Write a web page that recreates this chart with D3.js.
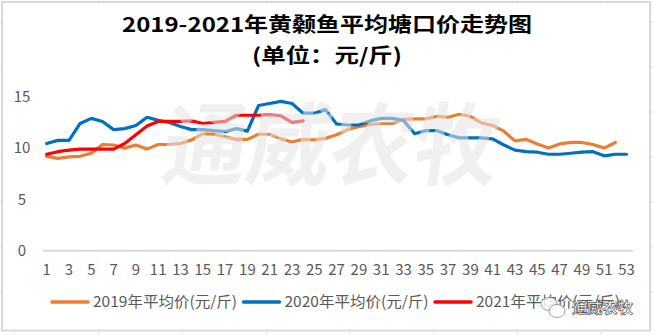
<!DOCTYPE html>
<html><head><meta charset="utf-8">
<script src="https://cdn.jsdelivr.net/npm/d3@7"></script>
<style>html,body{margin:0;padding:0;background:#fff;}svg{display:block;}</style>
</head><body>
<svg id="c" width="654" height="335"></svg>
<script>
const weeks = d3.range(1, 54);
const xTickLabels = d3.range(1, 54, 2);
const yTicks = [0, 5, 10, 15];
const seriesNames = ["2019年平均价(元/斤)", "2020年平均价(元/斤)", "2021年平均价(元/斤)"];
const seriesColors = ["#ED7D31", "#0070C0", "#FF0000"];
const price2019 = [9.2, 9.0, 9.15, 9.2, 9.5, 10.35, 10.3, 10.0, 10.3, 9.9, 10.35, 10.35, 10.45, 10.8, 11.4, 11.35, 11.1, 10.85, 10.85, 11.35, 11.35, 10.9, 10.6, 10.85, 10.8, 10.95, 11.3, 11.8, 12.1, 12.3, 12.4, 12.4, 12.8, 12.85, 12.85, 13.1, 13.0, 13.3, 13.1, 12.45, 12.2, 11.65, 10.7, 10.85, 10.4, 10.0, 10.4, 10.55, 10.55, 10.35, 10.0, 10.55];
const price2020 = [10.45, 10.75, 10.75, 12.4, 12.9, 12.6, 11.8, 11.9, 12.2, 13.0, 12.7, 12.5, 12.1, 11.8, 11.8, 11.7, 11.6, 11.9, 11.65, 14.15, 14.35, 14.55, 14.35, 13.4, 13.4, 13.75, 12.35, 12.25, 12.25, 12.65, 12.9, 12.9, 12.7, 11.4, 11.7, 11.7, 11.3, 11.0, 11.0, 11.0, 10.9, 10.3, 9.8, 9.65, 9.6, 9.4, 9.4, 9.5, 9.6, 9.65, 9.25, 9.4, 9.4];
const price2021 = [9.4, 9.65, 9.8, 9.9, 9.9, 9.9, 9.9, 10.45, 11.3, 12.15, 12.6, 12.6, 12.6, 12.65, 12.4, 12.5, 12.6, 13.2, 13.2, 13.2, 13.25, 13.15, 12.5, 12.65];
const allSeries = [price2019, price2020, price2021];

const svg = d3.select("#c");
const FONT = "'Noto Sans CJK SC','Microsoft YaHei',sans-serif";

// spreadsheet cell grid outside the chart
const colLines = [14.5, 98.5, 182.5, 266.5, 350, 433.5, 517.5, 601];
const rowLines = [22, 67, 112, 157, 202, 247, 292];
svg.append("g").selectAll("line.v").data(colLines).join("line")
  .attr("x1", d => d).attr("x2", d => d).attr("y1", 0).attr("y2", 335)
  .attr("stroke", "#e3e3e3").attr("stroke-width", 1);
svg.append("g").selectAll("line.h").data(rowLines).join("line")
  .attr("x1", 0).attr("x2", 654).attr("y1", d => d).attr("y2", d => d)
  .attr("stroke", "#e3e3e3").attr("stroke-width", 1);

// chart frame
svg.append("rect").attr("x", 2).attr("y", 2).attr("width", 648).attr("height", 328.5)
  .attr("fill", "#fff").attr("stroke", "#d9d9d9").attr("stroke-width", 2);

// title
svg.append("text").attr("x", 327).attr("y", 32).attr("text-anchor", "middle")
  .attr("font-family", FONT).attr("font-weight", "bold").attr("font-size", 20)
  .attr("textLength", 410).attr("lengthAdjust", "spacingAndGlyphs")
  .attr("fill", "#000").text("2019-2021年黄颡鱼平均塘口价走势图");
svg.append("text").attr("x", 327).attr("y", 63).attr("text-anchor", "middle")
  .attr("font-family", FONT).attr("font-weight", "bold").attr("font-size", 20)
  .attr("textLength", 150).attr("lengthAdjust", "spacingAndGlyphs")
  .attr("fill", "#000").text("(单位：元/斤)");

// scales
const x = d3.scalePoint().domain(weeks).range([46.7, 626.5]);
const y = d3.scaleLinear().domain([0, 15]).range([250.7, 96.8]);

// x axis baseline
svg.append("line").attr("x1", 43).attr("x2", 633).attr("y1", y(0)).attr("y2", y(0))
  .attr("stroke", "#d9d9d9").attr("stroke-width", 2);

// y labels
svg.append("g").selectAll("text").data(yTicks).join("text")
  .attr("x", 22).attr("y", d => y(d)).attr("dy", "0.35em").attr("text-anchor", "middle")
  .attr("font-family", FONT).attr("font-size", 15).attr("fill", "#595959")
  .text(d => d);

// x labels
svg.append("g").selectAll("text").data(xTickLabels).join("text")
  .attr("x", d => x(d)).attr("y", 270).attr("dy", "0.35em").attr("text-anchor", "middle")
  .attr("font-family", FONT).attr("font-size", 15).attr("fill", "#595959")
  .text(d => d);

// lines
const line = d3.line().x((d, i) => x(weeks[i])).y(d => y(d));
svg.append("g").selectAll("path").data(allSeries).join("path")
  .attr("d", d => line(d)).attr("fill", "none")
  .attr("stroke", (d, i) => seriesColors[i]).attr("stroke-width", 3.2)
  .attr("stroke-linejoin", "round").attr("stroke-linecap", "round");

// big watermark on top
svg.append("text").attr("x", 330).attr("y", 178).attr("text-anchor", "middle")
  .attr("font-family", FONT).attr("font-weight", "bold").attr("font-size", 90)
  .attr("textLength", 335).attr("lengthAdjust", "spacingAndGlyphs")
  .attr("transform", "skewX(-8) translate(22,0)")
  .attr("fill", "#e4e4e4").attr("fill-opacity", 0.55).text("通威农牧");

// legend
const legendX = [52, 243.5, 435];
const lg = svg.append("g").selectAll("g").data(seriesNames).join("g")
  .attr("transform", (d, i) => `translate(${legendX[i]},302)`);
lg.append("line").attr("x1", 0).attr("x2", 36).attr("y1", 0).attr("y2", 0)
  .attr("stroke", (d, i) => seriesColors[i]).attr("stroke-width", 3.5).attr("stroke-linecap", "round");
lg.append("text").attr("x", 41).attr("y", 0).attr("dy", "0.35em")
  .attr("font-family", FONT).attr("font-size", 15).attr("fill", "#595959")
  .attr("textLength", 144).attr("lengthAdjust", "spacingAndGlyphs")
  .text(d => d);

// bottom-right watermark (icon + outlined text)
const wm = svg.append("g").attr("transform", "translate(540,296)");
wm.append("ellipse").attr("cx", 9).attr("cy", 8).attr("rx", 8).attr("ry", 6.5)
  .attr("fill", "rgba(255,255,255,0.8)").attr("stroke", "#888").attr("stroke-width", 0.8);
wm.append("ellipse").attr("cx", 17).attr("cy", 15).attr("rx", 8).attr("ry", 6.5)
  .attr("fill", "rgba(255,255,255,0.8)").attr("stroke", "#888").attr("stroke-width", 0.8);
svg.append("text").attr("x", 572).attr("y", 308).attr("dy", "0.35em")
  .attr("font-family", FONT).attr("font-weight", "bold").attr("font-size", 15)
  .attr("textLength", 61).attr("lengthAdjust", "spacingAndGlyphs")
  .attr("fill", "#fff").attr("stroke", "#555").attr("stroke-width", 0.7)
  .text("通威农牧");
</script>
</body></html>
